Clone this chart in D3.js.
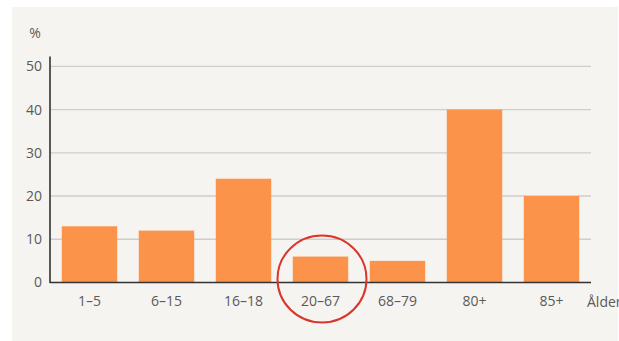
<!DOCTYPE html>
<html>
<head>
<meta charset="utf-8">
<script src="https://cdn.jsdelivr.net/npm/d3@7"></script>
<style>
  body { margin: 0; background: #ffffff; }
  svg { display: block; }
  text { font-family: "Open Sans", "Noto Sans", sans-serif; fill: #5a5a5a; }
</style>
</head>
<body>
<script>
// age groups and share in percent
var ageGroups = ["1–5", "6–15", "16–18", "20–67", "68–79", "80+", "85+"];
var shares = [13, 12, 24, 6, 5, 40, 20];
var yTicks = [0, 10, 20, 30, 40, 50];
var highlighted = "20–67";

var width = 619, height = 341;

var svg = d3.select("body").append("svg")
  .attr("width", width)
  .attr("height", height);

// beige panel
svg.append("rect")
  .attr("x", 12).attr("y", 7)
  .attr("width", 606).attr("height", 334)
  .attr("fill", "#f5f4f1");

var x = d3.scaleBand()
  .domain(ageGroups)
  .range([50, 591])
  .paddingInner(0.28)
  .paddingOuter(0.153);

var y = d3.scaleLinear()
  .domain([0, 50])
  .range([282.5, 66.3]);

// gridlines
svg.append("g")
  .selectAll("line")
  .data(yTicks.slice(1))
  .enter().append("line")
  .attr("x1", 50).attr("x2", 591)
  .attr("y1", function (d) { return y(d); })
  .attr("y2", function (d) { return y(d); })
  .attr("stroke", "#cfcdca")
  .attr("stroke-width", 1.3);

// bars
svg.append("g")
  .selectAll("rect")
  .data(shares)
  .enter().append("rect")
  .attr("x", function (d, i) { return x(ageGroups[i]); })
  .attr("width", x.bandwidth())
  .attr("y", function (d) { return y(d); })
  .attr("height", function (d) { return y(0) - y(d); })
  .attr("fill", "#fc934b");

// y axis
var yAxis = svg.append("g")
  .attr("transform", "translate(50,0)")
  .call(d3.axisLeft(y).tickValues(yTicks).tickSize(0).tickPadding(8));
yAxis.select(".domain").remove();
yAxis.selectAll("text")
  .style("font-size", "14px")
  .style("fill", "#5a5a5a");

svg.append("line")
  .attr("x1", 50).attr("x2", 50)
  .attr("y1", 56.5).attr("y2", 283)
  .attr("stroke", "#333333")
  .attr("stroke-width", 1.6);

// x axis
var xAxis = svg.append("g")
  .attr("transform", "translate(0," + y(0) + ")")
  .call(d3.axisBottom(x).tickSize(0).tickPadding(14));
xAxis.select(".domain").remove();
xAxis.selectAll("text")
  .style("font-size", "14px")
  .style("fill", "#5a5a5a");

svg.append("line")
  .attr("x1", 50).attr("x2", 591)
  .attr("y1", y(0)).attr("y2", y(0))
  .attr("stroke", "#333333")
  .attr("stroke-width", 1.6);

// axis titles
svg.append("text")
  .attr("x", 35).attr("y", 38)
  .attr("text-anchor", "middle")
  .style("font-size", "14px")
  .text("%");

svg.append("text")
  .attr("x", 587).attr("y", 307)
  .style("font-size", "14px")
  .text("Ålder");

// red ring round the highlighted group
svg.append("ellipse")
  .attr("cx", x(highlighted) + x.bandwidth() / 2 + 1.5)
  .attr("cy", 279)
  .attr("rx", 44.5)
  .attr("ry", 43.5)
  .attr("fill", "none")
  .attr("stroke", "#d8382b")
  .attr("stroke-width", 2);
</script>
</body>
</html>
